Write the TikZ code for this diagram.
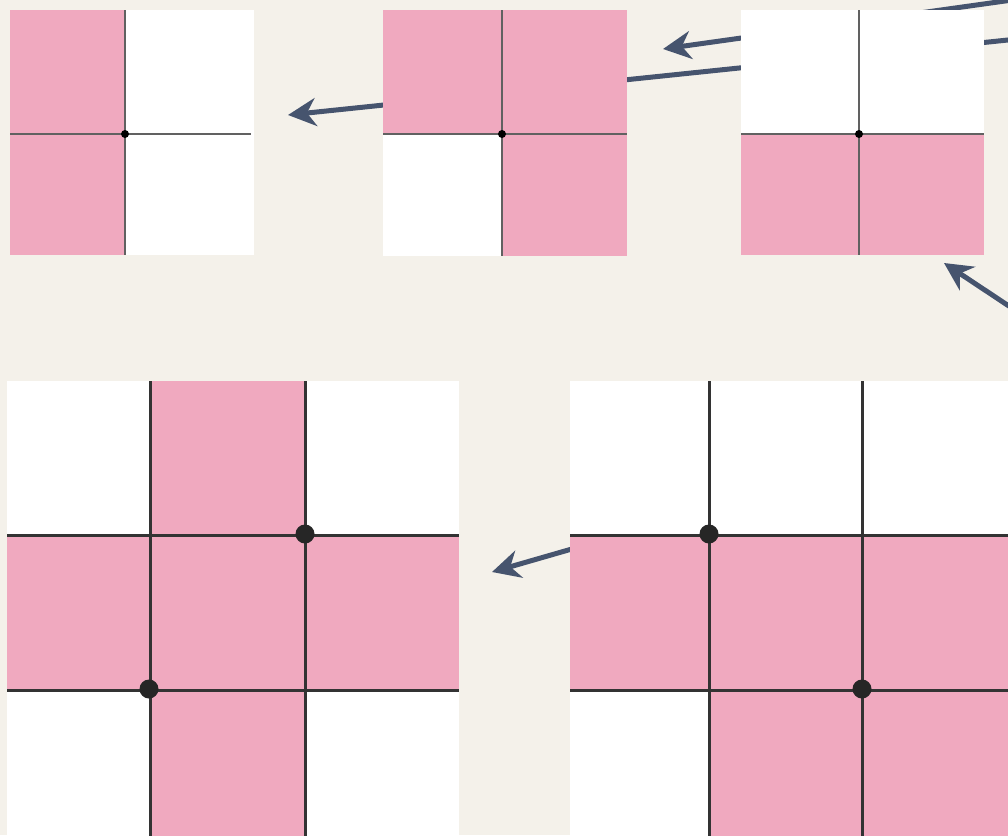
\documentclass[tikz,border=0pt]{standalone}
\usetikzlibrary{arrows.meta}
\definecolor{bg}{HTML}{F4F1EA}
\definecolor{pk}{HTML}{F0A9BF}
\definecolor{arr}{HTML}{46546E}
\tikzset{
  cellw/.style={fill=white},
  cellp/.style={fill=pk},
  gline/.style={draw=black!62, line width=2pt},
  bline/.style={draw=black!80, line width=3pt},
  sdot/.style={circle, fill=black, inner sep=0pt, minimum size=8pt},
  bdot/.style={circle, fill=black!85, inner sep=0pt, minimum size=19pt},
  myarrow/.style={draw=arr, line width=5pt, -{Stealth[length=28pt,width=28pt,inset=9pt]}},
}
\begin{document}
\begin{tikzpicture}[x=1pt,y=-1pt]
\useasboundingbox (0,0) rectangle (1008,835);
\clip (0,0) rectangle (1008,835);
\fill[bg] (0,0) rectangle (1008,835);

% coordinates for arrows
\coordinate (a1s) at (1030,-2.5);
\coordinate (a1e) at (663,49);
\coordinate (a2s) at (1030,37.7);
\coordinate (a2e) at (288,115);
\coordinate (a3s) at (1030,320);
\coordinate (a3e) at (944,263);
\coordinate (a4s) at (610,538);
\coordinate (a4e) at (492,572);

\draw[myarrow] (a1s) -- (a1e);
\draw[myarrow] (a2s) -- (a2e);
\draw[myarrow] (a3s) -- (a3e);
\draw[myarrow] (a4s) -- (a4e);

% ---- Grid A (top left)
\fill[cellp] (10,10) rectangle (125,134);
\fill[cellp] (10,134) rectangle (125,255);
\fill[cellw] (125,10) rectangle (254,134);
\fill[cellw] (125,134) rectangle (254,255);
\draw[gline] (125,10) -- (125,255);
\draw[gline] (10,134) -- (251,134);
\node[sdot] (dA) at (125,134) {};

% ---- Grid B (top middle)
\fill[cellp] (383,10) rectangle (502,134);
\fill[cellp] (502,10) rectangle (627,134);
\fill[cellw] (383,134) rectangle (502,256);
\fill[cellp] (502,134) rectangle (627,256);
\draw[gline] (502,10) -- (502,256);
\draw[gline] (383,134) -- (627,134);
\node[sdot] (dB) at (502,134) {};

% ---- Grid C (top right)
\fill[cellw] (741,10) rectangle (859,134);
\fill[cellw] (859,10) rectangle (984,134);
\fill[cellp] (741,134) rectangle (859,255);
\fill[cellp] (859,134) rectangle (984,255);
\draw[gline] (859,10) -- (859,255);
\draw[gline] (741,134) -- (984,134);
\node[sdot] (dC) at (859,134) {};

% ---- Grid D (bottom left)
\fill[cellw] (7,381) rectangle (150,535);
\fill[cellp] (150,381) rectangle (305,535);
\fill[cellw] (305,381) rectangle (459,535);
\fill[cellp] (7,535) rectangle (459,690);
\fill[cellw] (7,690) rectangle (150,845);
\fill[cellp] (150,690) rectangle (305,845);
\fill[cellw] (305,690) rectangle (459,845);
\draw[bline] (150,381) -- (150,845);
\draw[bline] (305,381) -- (305,845);
\draw[bline] (7,535) -- (459,535);
\draw[bline] (7,690) -- (459,690);
\node[bdot] (dD1) at (305,534) {};
\node[bdot] (dD2) at (149,689) {};

% ---- Grid E (bottom right)
\fill[cellw] (570,381) rectangle (1016,535);
\fill[cellp] (570,535) rectangle (1016,690);
\fill[cellw] (570,690) rectangle (709,845);
\fill[cellp] (709,690) rectangle (1016,845);
\draw[bline] (709,381) -- (709,845);
\draw[bline] (862,381) -- (862,845);
\draw[bline] (570,535) -- (1016,535);
\draw[bline] (570,690) -- (1016,690);
\node[bdot] (dE1) at (709,534) {};
\node[bdot] (dE2) at (862,689) {};
\end{tikzpicture}
\end{document}
